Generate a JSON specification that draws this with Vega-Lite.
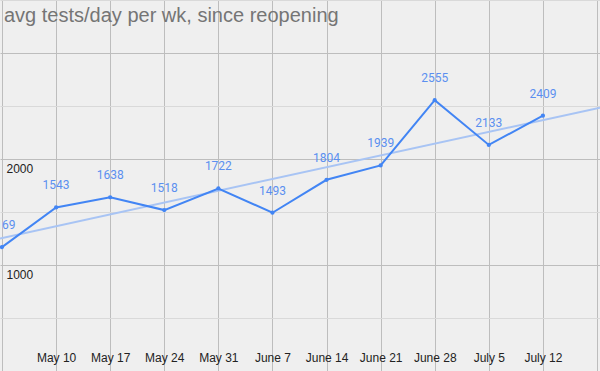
{
  "$schema": "https://vega.github.io/schema/vega-lite/v6.json",
  "width": 600,
  "height": 371,
  "padding": 0,
  "autosize": {"type": "none"},
  "background": "#efefef",
  "title": {
    "text": "avg tests/day per wk, since reopening",
    "anchor": "start",
    "frame": "group",
    "orient": "top",
    "offset": 0,
    "baseline": "alphabetic",
    "dy": 41.5,
    "dx": 4,
    "font": "Liberation Sans",
    "fontSize": 20,
    "fontWeight": "normal",
    "color": "#757575"
  },
  "config": {
    "view": {"stroke": null},
    "axis": {"domain": false, "ticks": false}
  },
  "data": {
    "values": [
      {"date": "2020-05-03", "tests": 1169},
      {"date": "2020-05-10", "tests": 1543},
      {"date": "2020-05-17", "tests": 1638},
      {"date": "2020-05-24", "tests": 1518},
      {"date": "2020-05-31", "tests": 1722},
      {"date": "2020-06-07", "tests": 1493},
      {"date": "2020-06-14", "tests": 1804},
      {"date": "2020-06-21", "tests": 1939},
      {"date": "2020-06-28", "tests": 2555},
      {"date": "2020-07-05", "tests": 2133},
      {"date": "2020-07-12", "tests": 2409}
    ]
  },
  "encoding": {
    "x": {
      "field": "date",
      "type": "temporal",
      "scale": {"type": "utc", "domain": [1588441640000, 1595150340000], "nice": false},
      "axis": {
        "title": null,
        "values": [1588464000000, 1589068800000, 1589673600000, 1590278400000, 1590883200000, 1591488000000, 1592092800000, 1592697600000, 1593302400000, 1593907200000, 1594512000000, 1595116800000],
        "format": "%B %-d",
        "labelExpr": "datum.value < 1588500000000 || datum.value > 1595000000000 ? '' : datum.label",
        "labelBaseline": "alphabetic",
        "labelPadding": -10,
        "labelFont": "Liberation Sans",
        "labelFontSize": 12,
        "labelColor": "#222222",
        "labelOverlap": false,
        "labelFlush": false,
        "grid": true,
        "gridColor": "#bdbdbd",
        "gridWidth": 1
      }
    },
    "y": {
      "field": "tests",
      "type": "quantitative",
      "scale": {"domain": [0, 3500], "nice": false, "zero": true},
      "axis": {
        "title": null,
        "values": [0, 500, 1000, 1500, 2000, 2500, 3000, 3500],
        "format": "d",
        "labelExpr": "datum.value == 1000 || datum.value == 2000 ? datum.label : ''",
        "labelAlign": "left",
        "labelBaseline": "alphabetic",
        "labelPadding": -6,
        "labelOffset": 13,
        "labelFont": "Liberation Sans",
        "labelFontSize": 12,
        "labelColor": "#222222",
        "grid": true,
        "gridColor": {"condition": {"test": "datum.value % 1000 === 0", "value": "#bdbdbd"}, "value": "#d9d9d9"},
        "gridWidth": 1
      }
    }
  },
  "layer": [
    {
      "transform": [
        {"regression": "tests", "on": "date", "extent": [1588441640000, 1595150340000]}
      ],
      "mark": {"type": "line", "color": "#a8c4f4", "strokeWidth": 2, "clip": true}
    },
    {
      "mark": {"type": "line", "color": "#4285f4", "strokeWidth": 2}
    },
    {
      "mark": {"type": "point", "filled": true, "color": "#4285f4", "size": 18, "opacity": 1}
    },
    {
      "mark": {"type": "text", "dy": -18, "baseline": "alphabetic", "align": "center", "font": "Roboto", "fontSize": 12, "color": "#5b8ff0"},
      "encoding": {"text": {"field": "tests", "type": "quantitative", "format": "d"}}
    }
  ]
}
